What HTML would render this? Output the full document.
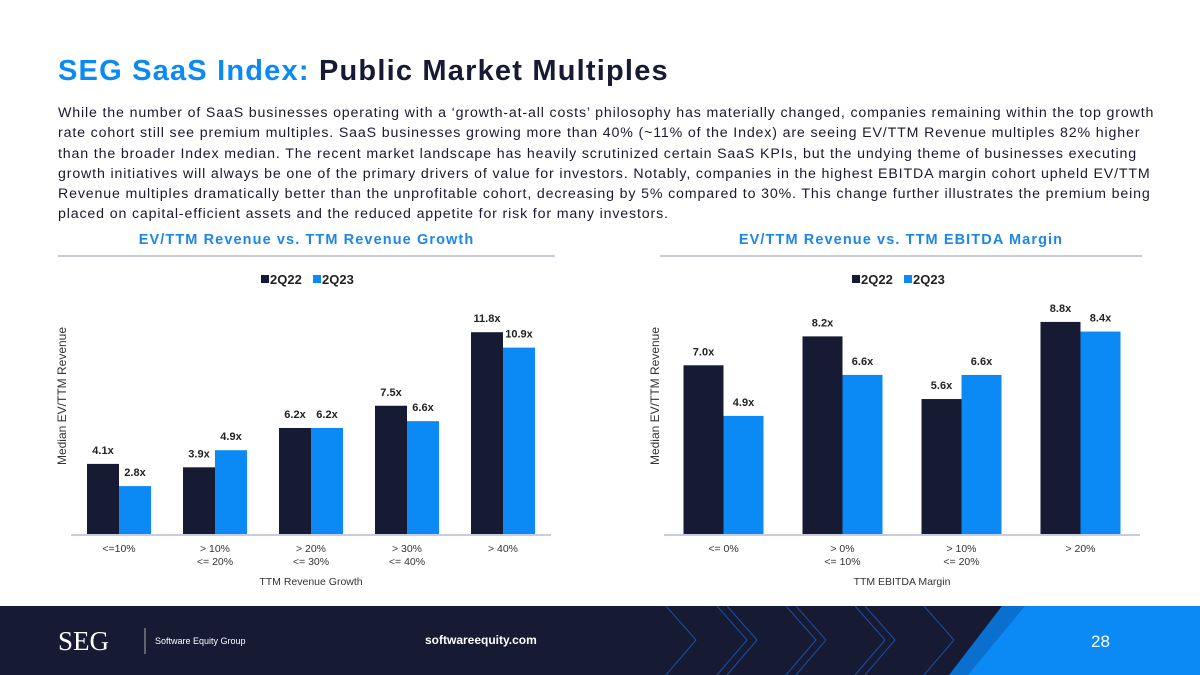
<!DOCTYPE html>
<html><head><meta charset="utf-8"><style>
*{margin:0;padding:0;box-sizing:border-box}
body{width:1200px;height:675px;overflow:hidden;background:#fff;font-family:"Liberation Sans",sans-serif;position:relative}
.t{position:absolute;left:58px;top:55px;font-size:29px;font-weight:bold;color:#161a33;letter-spacing:1.2px}
.t span{color:#0b8af5}
.p{position:absolute;left:58px;top:103px;width:1112px;font-size:14.2px;line-height:20.3px;color:#1a1a2e;letter-spacing:0.85px}
.h{position:absolute;top:232px;font-size:14.5px;font-weight:bold;color:#1e86e6;text-align:center;letter-spacing:1.1px;white-space:nowrap}
.hl{position:absolute;top:255px;height:2px;background:#c9cbd6}
.ft{position:absolute;left:0;top:606px;width:1200px;height:69px;background:#161a33}
</style></head><body>
<div class="t"><span>SEG SaaS Index:</span> Public Market Multiples</div>
<div class="p">While the number of SaaS businesses operating with a ‘growth-at-all costs’ philosophy has materially changed, companies remaining within the top growth rate cohort still see premium multiples. SaaS businesses growing more than 40% (~11% of the Index) are seeing EV/TTM Revenue multiples 82% higher than the broader Index median. The recent market landscape has heavily scrutinized certain SaaS KPIs, but the undying theme of businesses executing growth initiatives will always be one of the primary drivers of value for investors. Notably, companies in the highest EBITDA margin cohort upheld EV/TTM Revenue multiples dramatically better than the unprofitable cohort, decreasing by 5% compared to 30%. This change further illustrates the premium being placed on capital-efficient assets and the reduced appetite for risk for many investors.</div>
<div class="h" style="left:58px;width:497px">EV/TTM Revenue vs. TTM Revenue Growth</div>
<div class="hl" style="left:58px;width:497px"></div>
<div class="h" style="left:660px;width:482px">EV/TTM Revenue vs. TTM EBITDA Margin</div>
<div class="hl" style="left:660px;width:482px"></div>
<svg id="c" width="1200" height="606" style="position:absolute;left:0;top:0" font-family="Liberation Sans, sans-serif"></svg>
<div class="ft">
<svg width="1200" height="69" style="position:absolute;left:0;top:0">
<g stroke="#1d4fa0" stroke-width="1" fill="none">
<polyline points="666,0 696,34 666,69"/>
<polyline points="717,0 747,34 717,69"/><polyline points="727,0 757,34 727,69"/>
<polyline points="786,0 816,34 786,69"/><polyline points="796,0 826,34 796,69"/>
<polyline points="855,0 885,34 855,69"/><polyline points="865,0 895,34 865,69"/>
<polyline points="924,0 954,34 924,69"/>
</g>
<polygon points="1002,0 1200,0 1200,69 949,69" fill="#0b6fd0"/>
<polygon points="1025,0 1200,0 1200,69 968,69" fill="#0b8af5"/>
<text x="58" y="44" font-family="Liberation Serif,serif" font-size="27" fill="#fff">SEG</text>
<line x1="145" y1="22" x2="145" y2="48" stroke="#aaa"/>
<text x="155" y="38" font-size="9" fill="#fff">Software Equity Group</text>
<text x="425" y="38" font-size="12" font-weight="bold" fill="#fff">softwareequity.com</text>
<text x="1091" y="41" font-size="17" fill="#fff">28</text>
</svg></div>
<script>
const cats1=[["<=10%"],["> 10%","<= 20%"],["> 20%","<= 30%"],["> 30%","<= 40%"],["> 40%"]];
const s1a=[4.1,3.9,6.2,7.5,11.8];
const s1b=[2.8,4.9,6.2,6.6,10.9];
const cats2=[["<= 0%"],["> 0%","<= 10%"],["> 10%","<= 20%"],["> 20%"]];
const s2a=[7.0,8.2,5.6,8.8];
const s2b=[4.9,6.6,6.6,8.4];
const NS="http://www.w3.org/2000/svg",svg=document.getElementById('c');
function mk(t,a,p){const e=document.createElementNS(NS,t);for(const k in a)e.setAttribute(k,a[k]);(p||svg).appendChild(e);return e;}
function chart(id,x0,x1,base,scale,bw,cats,A,B,xt){
 const g=mk('g',{});
 
 
 const w=(x1-x0)/cats.length;
 const y=v=>base-v*scale;
 cats.forEach((c,i)=>{
  const cx=x0+w*(i+0.5);
  const r1=mk('rect',{x:cx-bw,y:y(A[i]),width:bw,height:base-y(A[i]),fill:'#161a33'},g);
  
  
  const r2=mk('rect',{x:cx,y:y(B[i]),width:bw,height:base-y(B[i]),fill:'#0b8af5'},g);
  
  
  const l1=mk('text',{x:cx-bw/2,y:y(A[i])-10,'text-anchor':'middle','font-size':11,'font-weight':'bold',fill:'#222'},g);l1.textContent=A[i].toFixed(1)+'x';
  
  
  const l2=mk('text',{x:cx+bw/2,y:y(B[i])-10,'text-anchor':'middle','font-size':11,'font-weight':'bold',fill:'#222'},g);l2.textContent=B[i].toFixed(1)+'x';
  
  
  c.forEach((s,j)=>{const t=mk('text',{x:cx,y:base+18+j*13,'text-anchor':'middle','font-size':10.5,fill:'#333'},g);t.textContent=s;
   
   });
 });
 const ax=mk('line',{x1:x0,x2:x1,y1:base+1,y2:base+1,stroke:'#c9cbe0','stroke-width':2},g);
 
 
 const xt_=mk('text',{x:(x0+x1)/2,y:base+51,'text-anchor':'middle','font-size':10.5,fill:'#333'},g);xt_.textContent=xt;
 
 
 const yt=mk('text',{transform:`translate(${x0-5},396) rotate(-90)`,'text-anchor':'middle','font-size':12,fill:'#333'},g);yt.textContent='Median EV/TTM Revenue';
 
 
 const lx=(x0+x1)/2-50;
 const lg=mk('g',{},g);
 
 
 mk('rect',{x:lx,y:275,width:8,height:8,fill:'#161a33'},lg);
 const a=mk('text',{x:lx+9,y:284,'font-size':13,'font-weight':'bold',fill:'#222'},lg);a.textContent='2Q22';
 mk('rect',{x:lx+52,y:275,width:8,height:8,fill:'#0b8af5'},lg);
 const b=mk('text',{x:lx+61,y:284,'font-size':13,'font-weight':'bold',fill:'#222'},lg);b.textContent='2Q23';
}
chart('chart-revenue-growth',71,551,534,17.1,32,cats1,s1a,s1b,'TTM Revenue Growth');
chart('chart-ebitda-margin',664,1140,534,24.1,40,cats2,s2a,s2b,'TTM EBITDA Margin');
</script>
</body></html>
